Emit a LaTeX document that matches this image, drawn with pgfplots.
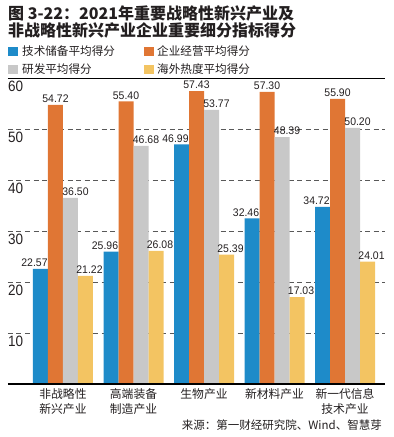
\documentclass[border=0pt]{standalone}
\usepackage{fontspec}
\setmainfont{Noto Sans CJK SC}
\newfontfamily\numfont{Liberation Sans}[FakeStretch=0.95]
\newfontfamily\ynumfont{Liberation Sans}[FakeStretch=0.9]
\usepackage{pgfplots}
\usepackage{pgfplotstable}
\pgfplotsset{compat=1.18}
\definecolor{cblue}{HTML}{1E8BC9}
\definecolor{corange}{HTML}{E07634}
\definecolor{cgray}{HTML}{C8C8C8}
\definecolor{cyellow}{HTML}{F3C462}
\definecolor{ctext}{HTML}{231F20}
\pgfplotstableread{
x tech biz rd abroad
0 22.57 54.72 36.50 21.22
1 25.96 55.40 46.68 26.08
2 46.99 57.43 53.77 25.39
3 32.46 57.30 48.39 17.03
4 34.72 55.90 50.20 24.01
}\datatable
\begin{document}
\begin{tikzpicture}
\useasboundingbox (0pt,0pt) rectangle (394pt,437pt);
% title
\node[anchor=base west, inner sep=0pt, text=ctext, font=\fontsize{16}{18}\selectfont\bfseries] at (8pt,417pt) {图 3-22：2021年重要战略性新兴产业及};
\node[anchor=base west, inner sep=0pt, text=ctext, font=\fontsize{16}{18}\selectfont\bfseries] at (8pt,400pt) {非战略性新兴产业企业重要细分指标得分};
% legend
\fill[cblue] (8pt,381pt) rectangle (18pt,390pt);
\node[anchor=base west, inner sep=0pt, text=ctext, font=\fontsize{11.6}{13}\selectfont] at (22pt,381.5pt) {技术储备平均得分};
\fill[corange] (144pt,381pt) rectangle (154pt,390pt);
\node[anchor=base west, inner sep=0pt, text=ctext, font=\fontsize{11.6}{13}\selectfont] at (157pt,381.5pt) {企业经营平均得分};
\fill[cgray] (8pt,363pt) rectangle (18pt,372pt);
\node[anchor=base west, inner sep=0pt, text=ctext, font=\fontsize{11.6}{13}\selectfont] at (22pt,363.5pt) {研发平均得分};
\fill[cyellow] (144pt,363pt) rectangle (154pt,372pt);
\node[anchor=base west, inner sep=0pt, text=ctext, font=\fontsize{11.6}{13}\selectfont] at (157pt,363.5pt) {海外热度平均得分};
\begin{axis}[
  at={(8pt,53pt)}, anchor=south west,
  scale only axis, width=377pt, height=306pt,
  xmin=-0.78, xmax=4.567, ymin=0, ymax=60,
  enlargelimits=false,
  ybar=0pt, bar width=15pt,
  axis line style={draw=none},
  major tick length=0pt,
  xtick={0,1,2,3,4},
  xticklabels={{非战略性\\新兴产业},{高端装备\\制造产业},{生物产业},{新材料产业},{新一代信息\\技术产业}},
  xticklabel style={anchor=north, align=center, inner sep=0pt, yshift=-4pt, text=ctext, font=\fontsize{11.8}{15}\selectfont},
  ytick={10,20,30,40,50,60},
  yticklabel style={anchor=north west, inner sep=0pt, xshift=0pt, yshift=-3pt, text=ctext, font=\ynumfont\fontsize{15}{16}\selectfont},
  ymajorgrids,
  grid style={dash pattern=on 5pt off 3.5pt, color=black!65, line width=0.9pt},
  nodes near coords,
  nodes near coords style={/pgf/number format/fixed, /pgf/number format/fixed zerofill, /pgf/number format/precision=2, font=\numfont\fontsize{11}{12}\selectfont, text=ctext, inner sep=2pt},
  /pgf/number format/assume math mode=true,
]
\addplot[fill=cblue, draw=none, every node near coord/.append style={xshift=-6pt}] table[x=x,y=tech]{\datatable};
\addplot[fill=corange, draw=none] table[x=x,y=biz]{\datatable};
\addplot[fill=cgray, draw=none, every node near coord/.append style={xshift=5pt}] table[x=x,y=rd]{\datatable};
\addplot[fill=cyellow, draw=none, every node near coord/.append style={xshift=4pt}] table[x=x,y=abroad]{\datatable};
\draw[black, line width=1.2pt] (rel axis cs:0,0) -- (rel axis cs:1,0);
\draw[black, line width=1pt] (rel axis cs:0,1) -- (rel axis cs:1,1);
\end{axis}
\node[anchor=base east, inner sep=0pt, text=ctext, font=\fontsize{11.5}{13}\selectfont] at (382pt,8pt) {来源：第一财经研究院、Wind、智慧芽};
\end{tikzpicture}
\end{document}
